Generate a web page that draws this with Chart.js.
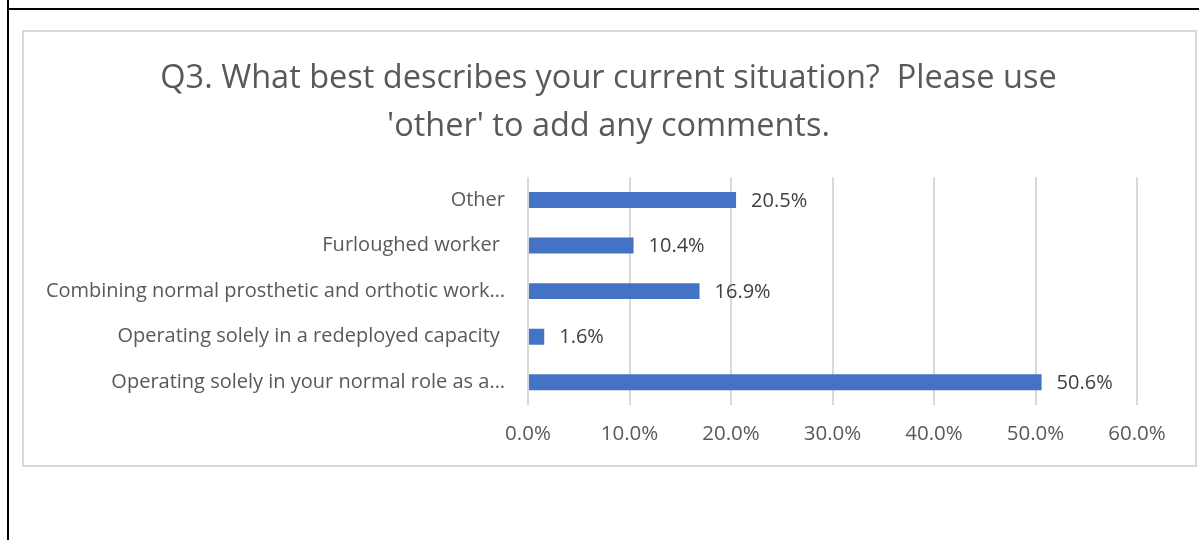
<!DOCTYPE html>
<html lang="en">
<head>
  <meta charset="UTF-8" />
  <title>Q3 current situation</title>
  <script src="https://cdn.jsdelivr.net/npm/chart.js"></script>
  <style>
    html, body {
      margin: 0;
      padding: 0;
      background: #fff;
      width: 1199px;
      height: 540px;
      overflow: hidden;
      position: relative;
      font-family: 'Open Sans', sans-serif;
    }

    .rule-top {
      position: absolute;
      left: 7px;
      top: 8px;
      width: 1192px;
      height: 2px;
      background: #000;
    }

    .rule-left {
      position: absolute;
      left: 7px;
      top: 0;
      width: 2px;
      height: 540px;
      background: #000;
    }

    .frame {
      position: absolute;
      left: 22px;
      top: 30px;
      width: 1171px;
      height: 433px;
      border: 2px solid #d9d9d9;
    }

    #situationChart {
      position: absolute;
      left: 0;
      top: 0;
    }
  </style>
</head>
<body>
  <div class="rule-top"></div>
  <div class="rule-left"></div>
  <div class="frame"></div>
  <canvas id="situationChart" width="1199" height="540"></canvas>

  <script>
    const titleLines = [
      "Q3. What best describes your current situation?  Please use",
      "'other' to add any comments."
    ];

    const categories = [
      'Other',
      'Furloughed worker ',
      'Combining normal prosthetic and orthotic work…',
      'Operating solely in a redeployed capacity ',
      'Operating solely in your normal role as a…'
    ];

    const percentages = [20.5, 10.4, 16.9, 1.6, 50.6];

    const axisMin = 0;
    const axisMax = 60;
    const axisStep = 10;

    const pct = v => v.toFixed(1) + '%';

    // writes the value just past the end of each bar
    const barValues = {
      id: 'barValues',
      afterDatasetsDraw(chart) {
        const ctx = chart.ctx;
        const meta = chart.getDatasetMeta(0);
        ctx.save();
        ctx.font = '20px "Open Sans", sans-serif';
        ctx.fillStyle = '#404040';
        ctx.textAlign = 'left';
        ctx.textBaseline = 'middle';
        meta.data.forEach((bar, i) => {
          ctx.fillText(pct(percentages[i]), bar.x + 15, bar.y + 1);
        });
        ctx.restore();
      }
    };

    new Chart(document.getElementById('situationChart'), {
      type: 'bar',
      data: {
        labels: categories,
        datasets: [{
          data: percentages,
          backgroundColor: '#4472c4',
          borderWidth: 0,
          barPercentage: 0.7,
          categoryPercentage: 0.5
        }]
      },
      options: {
        indexAxis: 'y',
        responsive: false,
        animation: false,
        layout: {
          // symmetric-ish padding keeps the title centred in the frame
          padding: { top: 55, right: 0, bottom: 75, left: 18 }
        },
        plugins: {
          legend: { display: false },
          tooltip: { enabled: false },
          title: {
            display: true,
            text: titleLines,
            color: '#595959',
            font: { family: "'Open Sans', sans-serif", size: 32.5, weight: 'normal', lineHeight: 1.48 },
            padding: { top: 0, bottom: 26 }
          }
        },
        scales: {
          x: {
            min: axisMin,
            max: axisMax,
            border: { display: false },
            grid: { color: '#d9d9d9', lineWidth: 2, drawTicks: false },
            ticks: {
              stepSize: axisStep,
              padding: 17,
              color: '#595959',
              font: { family: "'Open Sans', sans-serif", size: 20.5 },
              callback: v => pct(v)
            },
            afterFit: scale => {
              scale.height = 60;
              scale.paddingRight = 62;
            }
          },
          y: {
            border: { display: false },
            grid: { display: false, drawTicks: false },
            ticks: {
              padding: 23,
              color: '#595959',
              font: { family: "'Open Sans', sans-serif", size: 20 }
            },
            afterFit: scale => { scale.width = 510; }
          }
        }
      },
      plugins: [barValues]
    });
  </script>
</body>
</html>
